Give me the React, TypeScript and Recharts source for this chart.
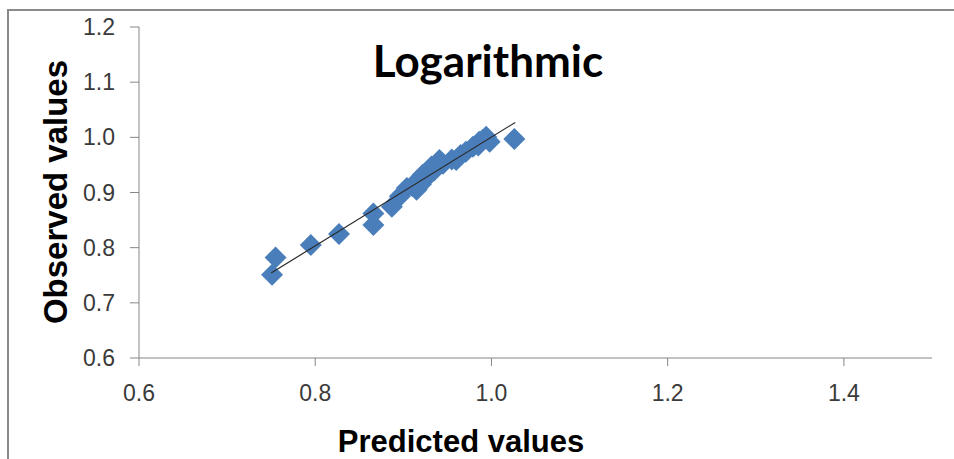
import React from "react";
import { ScatterChart, Scatter, XAxis, YAxis } from "recharts";

const predicted = [
  0.751, 0.755, 0.795, 0.827, 0.866, 0.866, 0.887, 0.896, 0.904, 0.91, 0.915,
  0.915, 0.92, 0.922, 0.925, 0.932, 0.935, 0.941, 0.945, 0.955, 0.96, 0.965,
  0.971, 0.979, 0.985, 0.986, 0.99, 0.994, 0.998, 1.026,
];
const observed = [
  0.751, 0.782, 0.805, 0.825, 0.841, 0.862, 0.874, 0.893, 0.908, 0.912, 0.905,
  0.92, 0.915, 0.932, 0.925, 0.947, 0.94, 0.959, 0.952, 0.96, 0.959, 0.968,
  0.974, 0.983, 0.985, 0.992, 0.995, 1.001, 0.992, 0.997,
];

// linear trendline end points
const trendX = [0.75, 1.027];
const trendY = [0.754, 1.027];

const xTicks = [0.6, 0.8, 1.0, 1.2, 1.4];
const yTicks = [0.6, 0.7, 0.8, 0.9, 1.0, 1.1, 1.2];

const points = predicted.map((x, i) => ({ x, y: observed[i] }));
const trend = trendX.map((x, i) => ({ x, y: trendY[i] }));

const BLUE = "#4a7ebb";
const AXIS = "#868686";
const tickFont = { fontSize: 23, fill: "#3a3a3a", fontFamily: "Liberation Sans, Arial, sans-serif" };

const Diamond = (props: any) => {
  const { cx, cy } = props;
  const r = 11;
  return (
    <polygon
      points={`${cx},${cy - r} ${cx + r},${cy} ${cx},${cy + r} ${cx - r},${cy}`}
      fill={BLUE}
    />
  );
};

export default function App() {
  return (
    <div style={{ position: "absolute", left: 0, top: 0, width: 954, height: 459, background: "#fff", overflow: "hidden" }}>
      <div
        style={{
          position: "absolute", left: 7, top: 9, width: 980, height: 480,
          borderLeft: "2px solid #8a8a8a", borderTop: "2px solid #8a8a8a",
        }}
      />
      <div style={{ position: "absolute", left: 0, top: 0 }}>
        <ScatterChart width={954} height={459} margin={{ top: 27, right: 22, bottom: 71, left: 0 }}>
          <XAxis
            type="number"
            dataKey="x"
            domain={[0.6, 1.5]}
            ticks={xTicks}
            tickFormatter={(v: number) => v.toFixed(1)}
            height={30}
            tickSize={8}
            tickMargin={19}
            stroke={AXIS}
            tick={tickFont}
            allowDataOverflow
          />
          <YAxis
            type="number"
            dataKey="y"
            domain={[0.6, 1.2]}
            ticks={yTicks}
            tickFormatter={(v: number) => v.toFixed(1)}
            width={139}
            tickSize={9}
            tickMargin={15}
            stroke={AXIS}
            tick={tickFont}
            allowDataOverflow
          />
          <Scatter data={points} shape={<Diamond />} isAnimationActive={false} />
          <Scatter
            data={trend}
            line={{ stroke: "#2b2b2b", strokeWidth: 1.2 }}
            shape={() => null}
            isAnimationActive={false}
          />
        </ScatterChart>
      </div>
      <svg width={954} height={459} style={{ position: "absolute", left: 0, top: 0, pointerEvents: "none" }}>
        <text x={488} y={77} textAnchor="middle" fontFamily="Lato, sans-serif" fontWeight="bold" fontSize={44} fill="#000">
          Logarithmic
        </text>
        <text x={461} y={452} textAnchor="middle" fontFamily="Liberation Sans, Arial, sans-serif" fontWeight="bold" fontSize={31} fill="#000">
          Predicted values
        </text>
        <text
          transform="translate(67,192) rotate(-90)"
          textAnchor="middle"
          fontFamily="Liberation Sans, Arial, sans-serif"
          fontWeight="bold"
          fontSize={33}
          fill="#000"
        >
          Observed values
        </text>
      </svg>
    </div>
  );
}
